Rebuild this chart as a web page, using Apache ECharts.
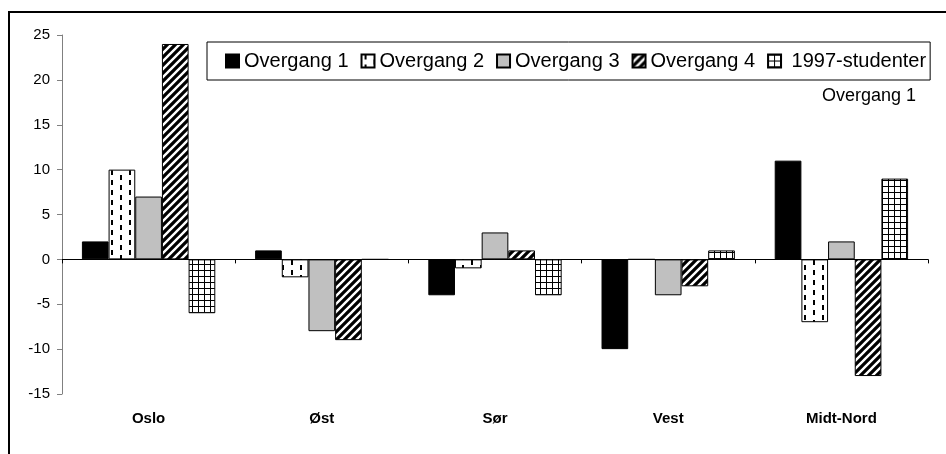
<!DOCTYPE html>
<html>
<head>
<meta charset="utf-8">
<script src="https://cdn.jsdelivr.net/npm/echarts@6/dist/echarts.min.js"></script>
<style>
  html, body { margin: 0; padding: 0; background: #fff; }
  #chart { width: 946px; height: 454px; }
</style>
</head>
<body>
<div id="chart"></div>
<script>
const regions = ['Oslo', 'Øst', 'Sør', 'Vest', 'Midt-Nord']
const overgang1 = [2, 1, -4, -10, 11]
const overgang2 = [10, -2, -1, 0, -7]
const overgang3 = [7, -8, 3, -4, 2]
const overgang4 = [24, -9, 1, -3, -13]
const studenter1997 = [-6, 0, -4, 1, 9]
const yTicks = [-15, -10, -5, 0, 5, 10, 15, 20, 25]

const FONT = '"Liberation Sans", Arial, sans-serif'

// small canvas tiles used as fill patterns
function makeTile(w, h, paint) {
  const c = document.createElement('canvas')
  c.width = w
  c.height = h
  paint(c.getContext('2d'), w, h)
  return { image: c, repeat: 'repeat' }
}

const dashFill = makeTile(18, 10, (ctx, w, h) => {
  ctx.fillStyle = '#fff'
  ctx.fillRect(0, 0, w, h)
  ctx.fillStyle = '#000'
  ctx.fillRect(3, 0, 2, 5)
  ctx.fillRect(12, 5, 2, 5)
})

const stripeFill = makeTile(8, 8, (ctx, w, h) => {
  ctx.fillStyle = '#000'
  ctx.fillRect(0, 0, w, h)
  ctx.strokeStyle = '#fff'
  ctx.lineWidth = 2.4
  ctx.beginPath()
  ctx.moveTo(-2, 10); ctx.lineTo(10, -2)
  ctx.moveTo(-2, 2); ctx.lineTo(2, -2)
  ctx.moveTo(6, 10); ctx.lineTo(10, 6)
  ctx.stroke()
})

const gridFill = makeTile(6, 6, (ctx, w, h) => {
  ctx.fillStyle = '#fff'
  ctx.fillRect(0, 0, w, h)
  ctx.fillStyle = '#000'
  ctx.fillRect(0, 0, w, 1)
  ctx.fillRect(0, 0, 1, h)
})

const myChart = echarts.init(document.getElementById('chart'))

function barSeries(name, data, fill) {
  return {
    name: name,
    type: 'bar',
    data: data,
    barGap: '0%',
    barCategoryGap: '23%',
    itemStyle: {
      color: fill,
      borderColor: '#000',
      borderWidth: 1
    }
  }
}

const options = {
  animation: false,
  textStyle: { fontFamily: FONT },
  grid: {
    left: 62,
    right: 18,
    top: 35,
    bottom: 60,
    containLabel: false
  },
  legend: {
    left: 207,
    top: 42,
    borderColor: '#000',
    borderWidth: 1,
    padding: [9, 4, 9, 18],
    itemWidth: 13,
    itemHeight: 13,
    itemGap: 12,
    icon: 'rect',
    formatter: name => (name === '1997-studenter' ? ' ' + name : name),
    textStyle: { fontFamily: FONT, fontSize: 20, color: '#000' }
  },
  graphic: [
    {
      type: 'polyline',
      shape: { points: [[9, 454], [9, 12], [946, 12]] },
      style: { stroke: '#000', lineWidth: 2, fill: null }
    },
    {
      type: 'text',
      left: 822,
      top: 87,
      style: { text: 'Overgang 1', font: '18px ' + FONT, fill: '#000' }
    }
  ],
  xAxis: [
    {
      type: 'category',
      data: regions,
      position: 'bottom',
      axisLine: { show: false, onZero: false },
      axisTick: { show: false },
      axisLabel: { fontFamily: FONT, fontSize: 15, fontWeight: 'bold', color: '#000', margin: 17 }
    },
    {
      type: 'category',
      data: regions,
      position: 'bottom',
      axisLine: { onZero: true, lineStyle: { color: '#000', width: 1 } },
      axisTick: { show: true, length: 4, lineStyle: { color: '#000' } },
      axisLabel: { show: false }
    }
  ],
  yAxis: {
    type: 'value',
    min: yTicks[0],
    max: yTicks[yTicks.length - 1],
    interval: yTicks[1] - yTicks[0],
    axisLine: { show: true, lineStyle: { color: '#808080', width: 1 } },
    axisTick: { show: true, length: 5, lineStyle: { color: '#808080' } },
    splitLine: { show: false },
    axisLabel: { fontFamily: FONT, fontSize: 15, color: '#000', margin: 12 }
  },
  series: [
    barSeries('Overgang 1', overgang1, '#000'),
    barSeries('Overgang 2', overgang2, dashFill),
    barSeries('Overgang 3', overgang3, '#c0c0c0'),
    barSeries('Overgang 4', overgang4, stripeFill),
    barSeries('1997-studenter', studenter1997, gridFill)
  ]
}

myChart.setOption(options, true)
</script>
</body>
</html>
